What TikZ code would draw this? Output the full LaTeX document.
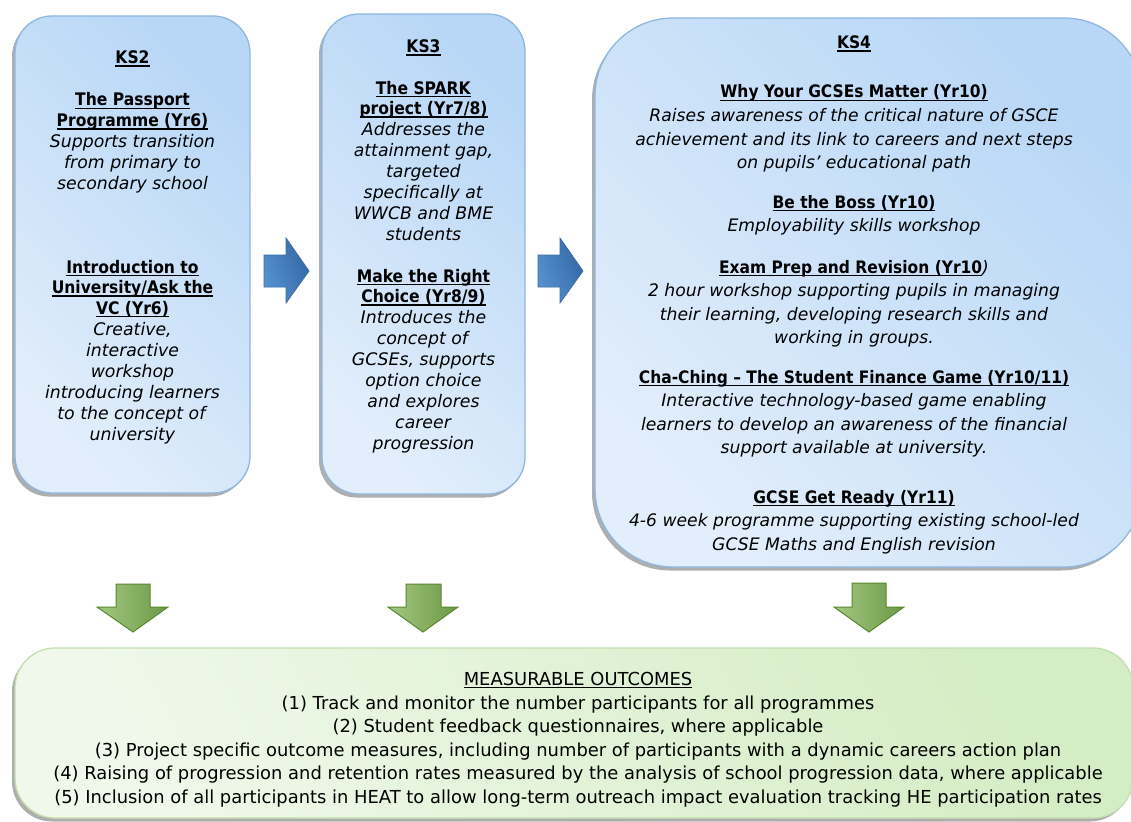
\documentclass[tikz,border=0pt]{standalone}
\usepackage{fontspec}
\setmainfont{DejaVu Sans}[BoldFont={DejaVu Sans Condensed Bold}, BoldItalicFont={DejaVu Sans Condensed Bold Oblique}]
\usetikzlibrary{shadows}
\newcommand\ulx[1]{\setbox0\hbox{#1}\rlap{\rule[-2.6pt]{\wd0}{1.1pt}}\box0}
\definecolor{blueA}{HTML}{E2EEFB}
\definecolor{blueB}{HTML}{B8D7F6}
\definecolor{blueEdge}{HTML}{8FB7E0}
\definecolor{greenA}{HTML}{EFF8EA}
\definecolor{greenB}{HTML}{D5EDC5}
\definecolor{greenEdge}{HTML}{C3DFAE}
\definecolor{abA}{HTML}{5692D0}
\definecolor{abB}{HTML}{3467A5}
\definecolor{abEdge}{HTML}{3B6EAC}
\definecolor{agA}{HTML}{A4C880}
\definecolor{agB}{HTML}{6C9846}
\definecolor{agEdge}{HTML}{5A8832}
\tikzset{
  stagebox/.style={draw=blueEdge, line width=1.3pt, left color=blueA, right color=blueB,
    shading angle=135, drop shadow={shadow xshift=-3pt, shadow yshift=-3.5pt, opacity=0.45, fill=black!70}},
  outbox/.style={draw=greenEdge, line width=1.3pt, left color=greenA, right color=greenB,
    shading angle=120, rounded corners=40pt, drop shadow={shadow xshift=-3pt, shadow yshift=-3.5pt, opacity=0.45, fill=black!70}},
  bluearrow/.style={draw=abEdge, line width=0.8pt, left color=abA, right color=abB, shading angle=110},
  greenarrow/.style={draw=agEdge, line width=1pt, left color=agA, right color=agB},
  tsmall/.style={font=\fontsize{17.3}{20.9}\selectfont, align=center, anchor=base, inner sep=0pt},
  tbig/.style={font=\fontsize{17.2}{23.5}\selectfont, align=center, anchor=base, inner sep=0pt},
  tout/.style={font=\fontsize{17.9}{23.5}\selectfont, align=center, anchor=base, inner sep=0pt},
}
\begin{document}
\begin{tikzpicture}[x=1pt, y=-1pt]
\useasboundingbox (0,0) rectangle (1131,821);
\fill[white] (0,0) rectangle (1131,821);
% stage boxes
\node[stagebox, rounded corners=37pt, minimum width=235pt, minimum height=477pt] (ks2) at (132.5,254.5) {};
\node[stagebox, rounded corners=37pt, minimum width=203pt, minimum height=480pt] (ks3) at (423.5,254) {};
\node[stagebox, rounded corners=78pt, minimum width=547pt, minimum height=549pt] (ks4) at (868.5,292.5) {};
\node[outbox, minimum width=1118pt, minimum height=170pt] (out) at (574,733) {};
% blue arrows
\draw[bluearrow] (264,255) -- (286,255) -- (286,238) -- (309,271) -- (286,303) -- (286,287) -- (264,287) -- cycle;
\draw[bluearrow] (538,255) -- (560,255) -- (560,238) -- (583,271) -- (560,303) -- (560,287) -- (538,287) -- cycle;
% green arrows
\draw[greenarrow] (116,584) -- (150,584) -- (150,607) -- (168,607) -- (133,632) -- (97,607) -- (116,607) -- cycle;
\draw[greenarrow] (406,584) -- (441,584) -- (441,607) -- (458,607) -- (423,632) -- (388,607) -- (406,607) -- cycle;
\draw[greenarrow] (852,583) -- (886,583) -- (886,607) -- (904,607) -- (869,632) -- (834,607) -- (852,607) -- cycle;
% KS2 text (anchor = baseline of last line)
\node[tsmall] (ks2t) at (132.5,64) {\ulx{\textbf{KS2}}};
\node[tsmall] (passport) at (132.5,189.6) {\ulx{\textbf{The Passport}}\\\ulx{\textbf{Programme (Yr6)}}\\\textit{Supports transition}\\\textit{from primary to}\\\textit{secondary school}};
\node[tsmall] (introuni) at (132.5,440.2) {\ulx{\textbf{Introduction to}}\\\ulx{\textbf{University/Ask the}}\\\ulx{\textbf{VC (Yr6)}}\\\textit{Creative,}\\\textit{interactive}\\\textit{workshop}\\\textit{introducing learners}\\\textit{to the concept of}\\\textit{university}};
% KS3 text
\node[tsmall] (ks3t) at (423.5,53) {\ulx{\textbf{KS3}}};
\node[tsmall] (spark) at (423.5,240.3) {\ulx{\textbf{The SPARK}}\\\ulx{\textbf{project (Yr7/8)}}\\\textit{Addresses the}\\\textit{attainment gap,}\\\textit{targeted}\\\textit{specifically at}\\\textit{WWCB and BME}\\\textit{students}};
\node[tsmall] (choice) at (423.5,449.2) {\ulx{\textbf{Make the Right}}\\\ulx{\textbf{Choice (Yr8/9)}}\\\textit{Introduces the}\\\textit{concept of}\\\textit{GCSEs, supports}\\\textit{option choice}\\\textit{and explores}\\\textit{career}\\\textit{progression}};
% KS4 text
\node[tbig] (ks4t) at (854,49) {\ulx{\textbf{KS4}}};
\node[tbig] (why) at (854,168.5) {\ulx{\textbf{Why Your GCSEs Matter (Yr10)}}\\\textit{Raises awareness of the critical nature of GSCE}\\\textit{achievement and its link to careers and next steps}\\\textit{on pupils’ educational path}};
\node[tbig] (boss) at (854,231.5) {\ulx{\textbf{Be the Boss (Yr10)}}\\\textit{Employability skills workshop}};
\node[tbig] (exam) at (854,343.5) {\ulx{\textbf{Exam Prep and Revision (Yr10}}\textit{)}\\\textit{2 hour workshop supporting pupils in managing}\\\textit{their learning, developing research skills and}\\\textit{working in groups.}};
\node[tbig] (chaching) at (854,453.5) {\ulx{\textbf{Cha-Ching – The Student Finance Game (Yr10/11)}}\\\textit{Interactive technology-based game enabling}\\\textit{learners to develop an awareness of the financial}\\\textit{support available at university.}};
\node[tbig] (getready) at (854,550) {\ulx{\textbf{GCSE Get Ready (Yr11)}}\\\textit{4-6 week programme supporting existing school-led}\\\textit{GCSE Maths and English revision}};
% outcomes text
\node[tout] (outt) at (578,803) {\ulx{MEASURABLE OUTCOMES}\\(1) Track and monitor the number participants for all programmes\\(2) Student feedback questionnaires, where applicable\\(3) Project specific outcome measures, including number of participants with a dynamic careers action plan\\(4) Raising of progression and retention rates measured by the analysis of school progression data, where applicable\\(5) Inclusion of all participants in HEAT to allow long-term outreach impact evaluation tracking HE participation rates};
\end{tikzpicture}
\end{document}
